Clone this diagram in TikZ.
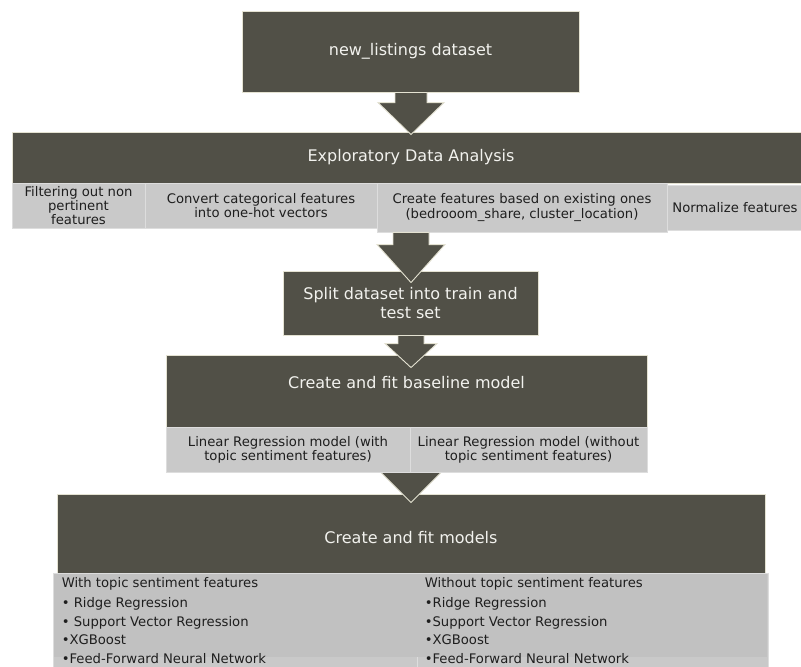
\documentclass[tikz,border=0pt]{standalone}
\usepackage{fontspec}
\setmainfont{DejaVu Sans}
\usetikzlibrary{calc}
\definecolor{darkbox}{HTML}{515047}
\definecolor{creamline}{HTML}{E4E2D2}
\definecolor{cellfill}{HTML}{C9C9C9}
\definecolor{celldark}{HTML}{C1C1C1}
\definecolor{cellline}{HTML}{DDDDDD}
\definecolor{titletext}{HTML}{F2F2EE}
\definecolor{celltext}{HTML}{1E1E1E}
\newcommand\blockarrow[5]{%
  \draw[arr] let \p1=(#1), \p2=(#2) in
    (\x2-#3pt,\y1) -- (\x2-#3pt,\y2+#5pt) -- (\x2-#4pt,\y2+#5pt) -- (\x2,\y2)
    -- (\x2+#4pt,\y2+#5pt) -- (\x2+#3pt,\y2+#5pt) -- (\x2+#3pt,\y1) -- cycle;}
\begin{document}
\begin{tikzpicture}[x=1pt,y=-1pt,
  darkbox/.style={draw=creamline,line width=0.9pt,fill=darkbox,inner sep=0pt,
    text=titletext,font=\fontsize{16}{18.5}\selectfont,align=center},
  cellbox/.style={draw=cellline,line width=0.8pt,fill=cellfill,inner sep=0pt,
    text=celltext,font=\fontsize{13.2}{14.2}\selectfont,align=center},
  titlelbl/.style={text=titletext,font=\fontsize{16}{18.5}\selectfont,inner sep=0pt},
  listlbl/.style={text=celltext,font=\fontsize{13.2}{18.5}\selectfont,align=left,
    inner sep=0pt,anchor=north west},
  arr/.style={draw=creamline,line width=0.9pt,fill=darkbox,line join=miter}]
\useasboundingbox (0,0) rectangle (801,667);
\fill[white] (0,0) rectangle (801,667);

% top box
\node[darkbox,minimum width=337pt,minimum height=81pt] (top) at (410.5,51.5) {new\_listings dataset};

% EDA
\node[darkbox,minimum width=798pt,minimum height=51pt] (eda) at (411,157.5) {Exploratory Data Analysis};
\node[cellbox,minimum width=133pt,minimum height=45pt] (c1) at (78.5,205.5)
  {Filtering out non\\pertinent\\features};
\node[cellbox,minimum width=232pt,minimum height=45pt] (c2) at (261,205.5)
  {Convert categorical features\\into one-hot vectors};
\node[cellbox,minimum width=290pt,minimum height=49pt] (c3) at (522,207.5)
  {Create features based on existing ones\\(bedrooom\_share, cluster\_location)};
\node[cellbox,minimum width=136pt,minimum height=45pt] (c4) at (735,207.5)
  {Normalize features};

% split
\node[darkbox,minimum width=255pt,minimum height=64pt] (split) at (410.5,303)
  {Split dataset into train and\\test set};

% baseline
\node[darkbox,minimum width=481pt,minimum height=72pt] (base) at (406.5,391) {};
\node[titlelbl] (basetitle) at ($(base.center)+(0,-8)$) {Create and fit baseline model};

% models
\node[darkbox,minimum width=708pt,minimum height=79pt] (models) at (411,533.5) {};
\node[titlelbl] (modtitle) at ($(models.center)+(0,4)$) {Create and fit models};

% arrow baseline -> models (behind baseline cells)
\blockarrow{$(base.south)+(4.5,5)$}{$(models.north)+(0,9)$}{15}{33}{33}

% baseline cells
\node[cellbox,minimum width=244pt,minimum height=45pt] (b1) at (288,449.5)
  {Linear Regression model (with\\topic sentiment features)};
\node[cellbox,minimum width=237pt,minimum height=45pt] (b2) at (528.5,449.5)
  {Linear Regression model (without\\topic sentiment features)};

% model cells
\node[cellbox,minimum width=364pt,minimum height=97pt] (m1) at (235,621.5) {};
\node[cellbox,minimum width=351pt,minimum height=97pt] (m2) at (592.5,621.5) {};
\fill[celldark] ($(m1.north west)+(1,1)$) rectangle ($(m2.north east)+(-1,84)$);
\node[listlbl] (m1text) at ($(m1.north west)+(9,5)$)
  {With topic sentiment features\\[1.5pt]
   • Ridge Regression\\
   • Support Vector Regression\\
   •XGBoost\\
   •Feed-Forward Neural Network};
\node[listlbl] (m2text) at ($(m2.north west)+(8,5)$)
  {Without topic sentiment features\\[1.5pt]
   •Ridge Regression\\
   •Support Vector Regression\\
   •XGBoost\\
   •Feed-Forward Neural Network};

% arrows on top
\blockarrow{$(top.south)+(0.5,0)$}{$(eda.north)+(0,3)$}{16}{33}{32}
\blockarrow{$(c3.south -| split.north)+(0.5,0)$}{$(split.north)+(0.5,12)$}{18}{34}{38}
\blockarrow{$(split.south)+(0.5,0)$}{$(base.north)+(4.5,13)$}{13}{26}{24}
\end{tikzpicture}
\end{document}
